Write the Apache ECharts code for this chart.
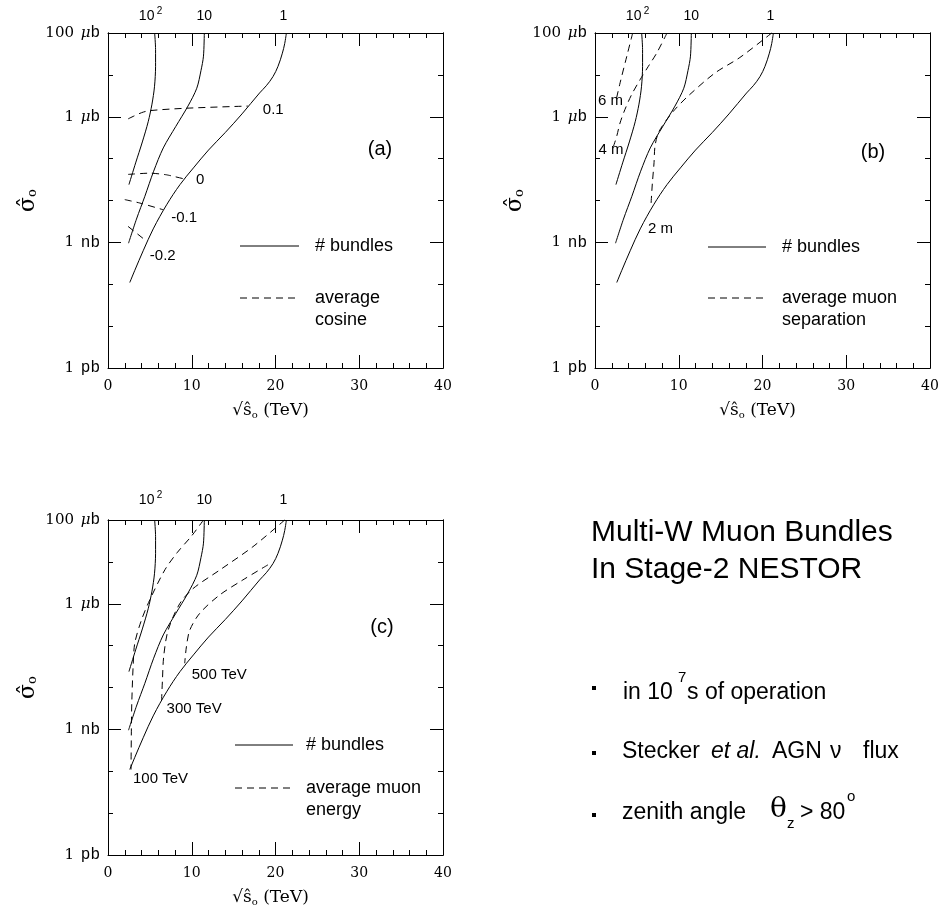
<!DOCTYPE html>
<html lang="en">
<head>
<meta charset="UTF-8">
<title>Multi-W Muon Bundles</title>
<script src="https://cdn.jsdelivr.net/npm/echarts@6/dist/echarts.min.js"></script>
<style>
  html, body { margin: 0; padding: 0; background: #fff; }
  #main { width: 941px; height: 913px; }
</style>
</head>
<body>
<div id="main"></div>
<script>
// x: sqrt(s0) in TeV, y: sigma0 in pb (1 pb .. 100 ub)
// number-of-bundles contours (same in all three panels), listed bottom -> top
var bundles100 = [[2.5, 2.4e4], [3.3, 7.9e4], [4.1, 2.5e5], [4.8, 7.6e5], [5.25, 2.0e6], [5.55, 5.2e6], [5.68, 1.6e7], [5.68, 4.0e7], [5.57, 1e8]];
var bundles10 = [[2.45, 955], [3.4, 3.6e3], [4.4, 1.26e4], [5.45, 5.0e4], [6.6, 1.8e5], [8.1, 5.9e5], [9.55, 1.8e6], [10.6, 4.8e6], [11.1, 1.26e7], [11.4, 2.8e7], [11.5, 1e8]];
var bundles1 = [[2.6, 110], [3.2, 215], [4.2, 630], [5.4, 2.1e3], [7.0, 7.9e3], [8.6, 2.4e4], [10.2, 6.0e4], [12.0, 1.6e5], [14.0, 4.2e5], [16.0, 1.17e6], [18.1, 3.7e6], [18.9, 5.5e6], [19.7, 9.1e6], [20.3, 1.6e7], [20.82, 3.3e7], [21.1, 5.6e7], [21.3, 1e8]];
var bundleTops = ['10|2', '10', '1'];

// (a) average cosine
var cosP01 = [[2.4, 8.9e5], [4.0, 1.25e6], [5.0, 1.4e6], [9.4, 1.6e6], [16.7, 1.8e6]];
var cos0 = [[2.4, 4.2e4], [5.0, 4.5e4], [7.0, 4.1e4], [9.3, 3.2e4]];
var cosM01 = [[2.0, 1.05e4], [3.8, 8.7e3], [6.6, 6.0e3]];
var cosM02 = [[2.4, 2.4e3], [4.4, 1.15e3]];

// (b) average muon separation, top -> bottom
var sep6m = [[4.5, 1e8], [3.8, 2.8e7], [3.0, 6.5e6], [2.5, 2.4e6]];
var sep4m = [[8.6, 1e8], [7.36, 3.3e7], [6.37, 1.6e7], [5.37, 7.6e6], [4.38, 3.4e6], [3.58, 1.5e6], [2.99, 7.1e5], [2.59, 3.4e5], [2.2, 1.95e5]];
var sep2m = [[21.1, 1e8], [17.3, 2.6e7], [14.3, 1.1e7], [11.1, 3.1e6], [9.55, 1.5e6], [8.56, 8.5e5], [7.56, 4.1e5], [7.16, 1.95e5], [7.05, 8e4], [6.85, 2.6e4], [6.7, 8.7e3]];

// (c) average muon energy, top -> bottom
var en100 = [[11.4, 1e8], [10.0, 4.2e7], [8.3, 1.7e7], [6.8, 6.5e6], [5.0, 1.25e6], [4.0, 4.1e5], [3.2, 1.15e5], [3.0, 3.2e4], [2.85, 5e3], [2.8, 1.5e3], [2.75, 1.1e2]];
var en300 = [[21.1, 1e8], [17.3, 2.3e7], [13.3, 6.3e6], [10.15, 2.3e6], [8.56, 1.0e6], [7.17, 2.3e5], [6.65, 5.5e4], [6.5, 1.5e4], [6.4, 5e3]];
var en500 = [[19.1, 8.5e6], [16.1, 3.7e6], [13.3, 1.6e6], [10.95, 5.9e5], [9.75, 2.3e5], [9.36, 9.3e4], [9.16, 3.8e4]];

var yTickLabels = { 0: '{n|1}  {u|pb}', 3: '{n|1}  {u|nb}', 6: '{n|1}  {m|μ}{u|b}', 8: '{n|100}  {m|μ}{u|b}' };
var xTicks = { min: 0, max: 40, step: 10 };

var serif = 'DejaVu Serif';
var sans = 'Liberation Sans';

var grids = [
  { left: 108, top: 33, width: 335, height: 335, outerBoundsMode: 'none' },
  { left: 595, top: 33, width: 335, height: 335, outerBoundsMode: 'none' },
  { left: 108, top: 520, width: 335, height: 335, outerBoundsMode: 'none' }
];

var black = { color: '#000', width: 1 };

function xPair(g) {
  var base = {
    gridIndex: g, type: 'value', min: xTicks.min, max: xTicks.max, interval: xTicks.step,
    axisLine: { show: true, onZero: false, lineStyle: black },
    axisTick: { show: true, inside: true, length: 13, lineStyle: black },
    minorTick: { show: true, splitNumber: 5, length: 5, lineStyle: black },
    splitLine: { show: false }, minorSplitLine: { show: false }
  };
  var bottom = Object.assign({}, base, {
    position: 'bottom',
    axisLabel: { margin: 11, color: '#000', fontFamily: serif, fontSize: 14 },
    name: '{r|√}{s|ŝ}{o|o}{t| (TeV)}', nameLocation: 'middle', nameGap: 33,
    nameTextStyle: {
      color: '#000', padding: [0, 10, 0, 0],
      rich: {
        r: { fontFamily: serif, fontSize: 17, color: '#000' },
        s: { fontFamily: serif, fontSize: 17, color: '#000' },
        o: { fontFamily: serif, fontSize: 10, color: '#000', padding: [9, 0, 0, 0] },
        t: { fontFamily: serif, fontSize: 17, color: '#000' }
      }
    }
  });
  var top = Object.assign({}, base, { position: 'top', axisLabel: { show: false } });
  return [bottom, top];
}

function yQuad(g) {
  var base = {
    gridIndex: g, type: 'log', logBase: 10, min: 1, max: 1e8, splitNumber: 8,
    axisLine: { show: true, onZero: false, lineStyle: black },
    splitLine: { show: false }, axisLabel: { show: false }
  };
  var labelled = Object.assign({}, base, {
    position: 'left',
    axisTick: { show: true, inside: true, length: 5, lineStyle: black },
    axisLabel: {
      show: true, margin: 8, color: '#000',
      formatter: function (v) {
        var k = Math.round(Math.log10(v));
        return yTickLabels[k] || '';
      },
      rich: {
        n: { fontFamily: serif, fontSize: 15, color: '#000' },
        m: { fontFamily: serif, fontStyle: 'italic', fontSize: 15, color: '#000' },
        u: { fontFamily: 'Liberation Mono', fontSize: 16, color: '#000' }
      }
    }
  });
  var rightShort = Object.assign({}, base, {
    position: 'right',
    axisTick: { show: true, inside: true, length: 5, lineStyle: black }
  });
  // long ticks at the labelled decades (grid swaps these to the free side)
  var leftLong = Object.assign({}, base, {
    position: 'left',
    axisTick: { show: true, inside: true, length: 13, lineStyle: black, customValues: [1e3, 1e6] }
  });
  var rightLong = Object.assign({}, base, {
    position: 'right',
    axisTick: { show: true, inside: true, length: 13, lineStyle: black, customValues: [1e3, 1e6] }
  });
  return [labelled, rightShort, leftLong, rightLong];
}

var xAxis = [], yAxis = [];
for (var g = 0; g < 3; g++) {
  xAxis = xAxis.concat(xPair(g));
  yAxis = yAxis.concat(yQuad(g));
}

var series = [];
function curve(g, data, dashed, smooth) {
  series.push({
    type: 'line', xAxisIndex: 2 * g, yAxisIndex: 4 * g, data: data,
    symbol: 'none', smooth: smooth, clip: false, silent: true,
    lineStyle: { color: '#000', width: 1, type: dashed ? [7, 5] : 'solid' }
  });
  return series.length - 1;
}

var firstSeries = [];
for (g = 0; g < 3; g++) {
  firstSeries.push(curve(g, bundles100, false, 0.3));
  curve(g, bundles10, false, 0.3);
  curve(g, bundles1, false, 0.35);
}
curve(0, cosP01, true, 0.3);
curve(0, cos0, true, 0.2);
curve(0, cosM01, true, 0.3);
curve(0, cosM02, true, 0);
curve(1, sep6m, true, 0.3);
curve(1, sep4m, true, 0.3);
curve(1, sep2m, true, 0.3);
curve(2, en100, true, 0.3);
curve(2, en300, true, 0.3);
curve(2, en500, true, 0.3);

var chart = echarts.init(document.getElementById('main'));
chart.setOption({
  animation: false,
  backgroundColor: '#fff',
  grid: grids,
  xAxis: xAxis,
  yAxis: yAxis,
  series: series
});

// annotations anchored on data points
function px(g, p) {
  return chart.convertToPixel({ seriesIndex: firstSeries[g] }, p);
}
var graphics = [];
function txt(x, y, text, size, opts) {
  graphics.push({
    type: 'text', x: x, y: y, silent: true,
    style: Object.assign({ text: text, fill: '#000', font: size + 'px ' + sans, align: 'left', verticalAlign: 'middle' }, opts || {})
  });
}
function seg(x1, y1, x2, y2, dashed) {
  graphics.push({
    type: 'line', silent: true,
    shape: { x1: x1, y1: y1, x2: x2, y2: y2 },
    style: { stroke: '#000', lineWidth: 1, lineDash: dashed ? [7, 5] : null }
  });
}
function note(g, pt, text, dx, dy) {
  var p = px(g, pt);
  txt(p[0] + dx, p[1] + dy, text, 15);
}

// rotated y-axis title for each panel
grids.forEach(function (gr) {
  graphics.push({
    type: 'text', silent: true, x: gr.left - 80, y: gr.top + gr.height / 2, rotation: Math.PI / 2,
    style: {
      text: '{s|σ̂}{o|o}', align: 'center', verticalAlign: 'middle',
      rich: {
        s: { fontFamily: serif, fontSize: 22, fill: '#000' },
        o: { fontFamily: serif, fontSize: 13, fill: '#000', padding: [10, 0, 0, 0] }
      }
    }
  });
});

var topDy = [-17, -17, -20];
var tops = [bundles100, bundles10, bundles1];
for (g = 0; g < 3; g++) {
  for (var i = 0; i < 3; i++) {
    var t = tops[i][tops[i].length - 1];
    var p = px(g, t);
    var parts = bundleTops[i].split('|');
    if (parts.length > 1) {
      txt(p[0] - 8, p[1] + topDy[g], parts[0], 14, { align: 'center' });
      txt(p[0] + 2, p[1] + topDy[g] - 5, parts[1], 10, { align: 'left' });
    } else {
      txt(p[0] + (i === 2 ? -3 : 0), p[1] + topDy[g], parts[0], 14, { align: 'center' });
    }
  }
}

note(0, cosP01[cosP01.length - 1], '0.1', 15, 4);
note(0, cos0[cos0.length - 1], '0', 10, 1);
note(0, cosM01[cosM01.length - 1], '-0.1', 8, 8);
note(0, cosM02[cosM02.length - 1], '-0.2', 5, 16);
note(1, sep6m[sep6m.length - 1], '6 m', -18, 0);
note(1, sep4m[sep4m.length - 1], '4 m', -15, 3);
note(1, sep2m[sep2m.length - 1], '2 m', -3, 26);
note(2, en500[en500.length - 1], '500 TeV', 7, 12);
note(2, en300[en300.length - 1], '300 TeV', 5, 9);
note(2, en100[en100.length - 1], '100 TeV', 2, 9);

// panel tags
txt(380, 149, '(a)', 20, { align: 'center' });
txt(873, 152, '(b)', 20, { align: 'center' });
txt(382, 627, '(c)', 20, { align: 'center' });

// legends
var legends = [
  { x: 240, x2: 299, y1: 246, y2: 298, tx: 315, lines: ['average', 'cosine'] },
  { x: 708, x2: 766, y1: 247, y2: 298, tx: 782, lines: ['average muon', 'separation'] },
  { x: 235, x2: 293, y1: 745, y2: 788, tx: 306, lines: ['average muon', 'energy'] }
];
legends.forEach(function (L) {
  seg(L.x, L.y1, L.x2, L.y1, false);
  txt(L.tx, L.y1, '# bundles', 18);
  seg(L.x, L.y2, L.x2, L.y2, true);
  txt(L.tx, L.y2, L.lines[0], 18);
  txt(L.tx, L.y2 + 22, L.lines[1], 18);
});

// side text block
txt(591, 533, 'Multi-W Muon Bundles', 30);
txt(591, 570, 'In Stage-2 NESTOR', 30);
[688, 753, 815].forEach(function (y) {
  graphics.push({ type: 'rect', silent: true, shape: { x: 592, y: y - 2, width: 4, height: 4 }, style: { fill: '#000' } });
});
txt(623, 693, 'in 10', 23);
txt(678, 678, '7', 15);
txt(687, 693, 's of operation', 23);
txt(622, 752, 'Stecker', 23);
txt(711, 752, 'et al.', 23, { font: 'italic 23px ' + sans });
txt(772, 752, 'AGN', 23);
txt(830, 752, 'ν', 23);
txt(863, 752, 'flux', 23);
txt(622, 813, 'zenith angle', 23);
txt(770, 810, 'θ', 28, { font: '28px ' + serif });
txt(787, 824, 'z', 15);
txt(800, 813, '> 80', 23);
txt(847, 797, 'o', 15);

chart.setOption({ graphic: graphics });
</script>
</body>
</html>
